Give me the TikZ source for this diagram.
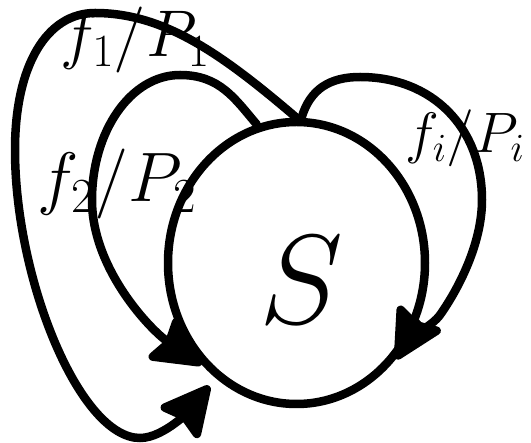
\RequirePackage{fix-cm}
\documentclass[tikz,border=0pt]{standalone}
\usetikzlibrary{shapes.geometric,arrows.meta}
\begin{document}
\begin{tikzpicture}[x=1pt,y=-1pt,
  loopline/.style={line width=8.5pt, line cap=round, arrows={-Stealth[length=56pt,width=56pt,inset=7pt,round]}},
  lbl/.style={inner sep=0pt, anchor=base}]
\useasboundingbox (0,0) rectangle (531,443);
\node[ellipse, draw, line width=8.5pt, minimum width=257pt, minimum height=282pt, inner sep=0pt] (S) at (296.5,263) {};
\node[font=\fontsize{127}{135}\selectfont, inner sep=0pt] (Stext) at (301,280) {$S$};
% f1 loop
\draw[loopline, shorten >=10pt] (S.90) .. controls (223,55) and (165,13) .. (95,13)
  .. controls (47,13) and (15,65) .. (15,150)
  .. controls (15,280) and (80,438) .. (140,438)
  .. controls (165,438) and (193,406) .. (S.235);
% f2 loop
\draw[loopline] (S.106) .. controls (235,99) and (220,75) .. (180,75)
  .. controls (131,75) and (92,131) .. (92,200)
  .. controls (92,270) and (152,331) .. (S.227);
% fi loop
\draw[loopline] (S.88) .. controls (310,89) and (330,77) .. (360,77)
  .. controls (432,77) and (482,127) .. (482,200)
  .. controls (482,245) and (457,291) .. (440,315)
  .. controls (433,325) and (406,342) .. (S.316);
\node[lbl, font=\fontsize{66}{72}\selectfont] (l1) at (135,57) {$f_1/P_1$};
\node[lbl, font=\fontsize{70}{76}\selectfont] (l2) at (117,202) {$f_2/P_2$};
\node[lbl, font=\fontsize{57}{64}\selectfont] (li) at (465,153) {$f_i/P_i$};
\end{tikzpicture}
\end{document}
